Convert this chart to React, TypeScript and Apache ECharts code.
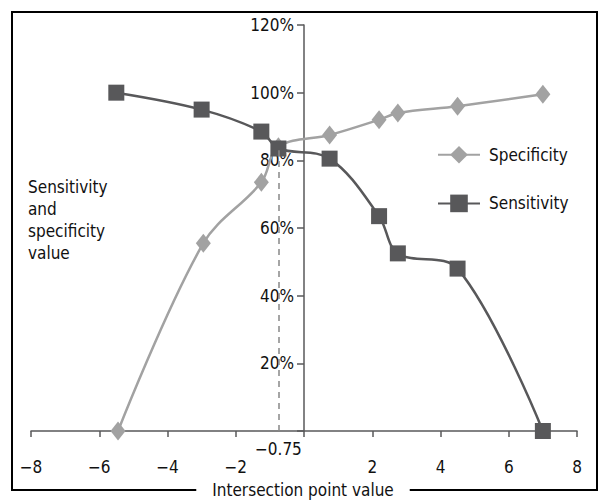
import React, { useEffect, useRef } from "react";
import * as echarts from "echarts";

const sensitivityX = [-5.5, -3.0, -1.25, -0.75, 0.75, 2.2, 2.75, 4.5, 7.0];
const sensitivityY = [1.0, 0.95, 0.885, 0.835, 0.805, 0.635, 0.525, 0.48, 0.0];
const specificityX = [-5.45, -2.95, -1.25, -0.75, 0.75, 2.2, 2.75, 4.5, 7.0];
const specificityY = [0.0, 0.555, 0.735, 0.84, 0.875, 0.92, 0.94, 0.96, 0.995];
const cutoff = -0.75;
const cutoffTop = 0.83;

const FONT = "'Liberation Sans Narrow', 'DejaVu Sans Condensed', 'Arial Narrow', sans-serif";
const DARK = "#58585a";
const LIGHT = "#a2a2a2";

const GRID_LEFT = 31;
const GRID_RIGHT = 24;
const X_MIN = -8;
const X_MAX = 8;

const fmtNum = (v: number) => (v < 0 ? "\u2212" + Math.abs(v) : String(v));

export default function App() {
  const ref = useRef<HTMLDivElement>(null);
  useEffect(() => {
    if (!ref.current) return;
    const chart = echarts.init(ref.current, undefined, { renderer: "svg" });
    const sens = sensitivityX.map((x, i) => [x, sensitivityY[i]]);
    const spec = specificityX.map((x, i) => [x, specificityY[i]]);
    const plotW = 601 - GRID_LEFT - GRID_RIGHT;
    const zeroOffset = (plotW * (0 - X_MIN)) / (X_MAX - X_MIN);
    chart.setOption({
      animation: false,
      backgroundColor: "#fff",
      textStyle: { fontFamily: FONT },
      grid: {
        left: GRID_LEFT,
        right: GRID_RIGHT,
        top: 25,
        bottom: 70,
        containLabel: false,
        outerBoundsMode: "none",
      },
      legend: {
        orient: "vertical",
        left: 432,
        top: 141,
        itemWidth: 42,
        itemHeight: 22,
        itemGap: 31,
        textStyle: { fontFamily: FONT, fontSize: 17, color: "#111", padding: [0, 0, 0, 4] },
        data: ["Specificity", "Sensitivity"],
      },
      xAxis: {
        type: "value",
        min: X_MIN,
        max: X_MAX,
        interval: 2,
        splitLine: { show: false },
        axisLine: { onZero: false, lineStyle: { color: DARK, width: 1.5 } },
        axisTick: { show: true, length: 6, lineStyle: { color: DARK, width: 1.5 } },
        axisLabel: {
          margin: 27,
          fontFamily: FONT,
          fontSize: 17,
          color: "#111",
          formatter: (v: number) => (v === 0 ? "" : fmtNum(v)),
        },
      },
      yAxis: {
        type: "value",
        min: 0,
        max: 1.2,
        interval: 0.2,
        position: "left",
        offset: -zeroOffset,
        splitLine: { show: false },
        axisLine: { show: true, onZero: false, lineStyle: { color: DARK, width: 1.5 } },
        axisTick: { show: true, length: 7, lineStyle: { color: DARK, width: 1.5 } },
        axisLabel: {
          margin: 10,
          fontFamily: FONT,
          fontSize: 17,
          color: "#111",
          formatter: (v: number) => (v < 0.01 ? "" : Math.round(v * 100) + "%"),
        },
      },
      series: [
        {
          name: "Specificity",
          type: "line",
          data: spec,
          smooth: 0.35,
          symbol: "diamond",
          symbolSize: [15, 19],
          itemStyle: { color: LIGHT },
          lineStyle: { color: LIGHT, width: 2.5 },
          z: 2,
        },
        {
          name: "Sensitivity",
          type: "line",
          data: sens,
          smooth: 0.35,
          symbol: "rect",
          symbolSize: 16,
          itemStyle: { color: DARK },
          lineStyle: { color: DARK, width: 2.5 },
          z: 3,
          markLine: {
            silent: true,
            symbol: ["none", "none"],
            lineStyle: { color: "#888", type: [6, 5], width: 1.5 },
            label: {
              show: true,
              position: "start",
              distance: 9,
              fontFamily: FONT,
              fontSize: 17,
              color: "#111",
              formatter: () => fmtNum(cutoff),
            },
            data: [[{ coord: [cutoff, 0] }, { coord: [cutoff, cutoffTop] }]],
          },
        },
      ],
      graphic: [
        {
          type: "rect",
          shape: { x: 12, y: 12, width: 585, height: 478 },
          style: { fill: "none", stroke: "#000", lineWidth: 2 },
          z: 10,
        },
        {
          type: "text",
          x: 303,
          y: 490,
          z: 11,
          style: {
            text: "Intersection point value",
            fontFamily: FONT,
            fontSize: 17,
            fill: "#111",
            align: "center",
            verticalAlign: "middle",
            backgroundColor: "#fff",
            padding: [2, 16],
          },
        },
        {
          type: "text",
          x: 28,
          y: 176,
          z: 11,
          style: {
            text: "Sensitivity\nand\nspecificity\nvalue",
            fontFamily: FONT,
            fontSize: 17,
            lineHeight: 22,
            fill: "#111",
            align: "left",
            verticalAlign: "top",
          },
        },
      ],
    });
    return () => chart.dispose();
  }, []);
  return (
    <div
      ref={ref}
      style={{ position: "fixed", left: 0, top: 0, width: 601, height: 501 }}
    />
  );
}
